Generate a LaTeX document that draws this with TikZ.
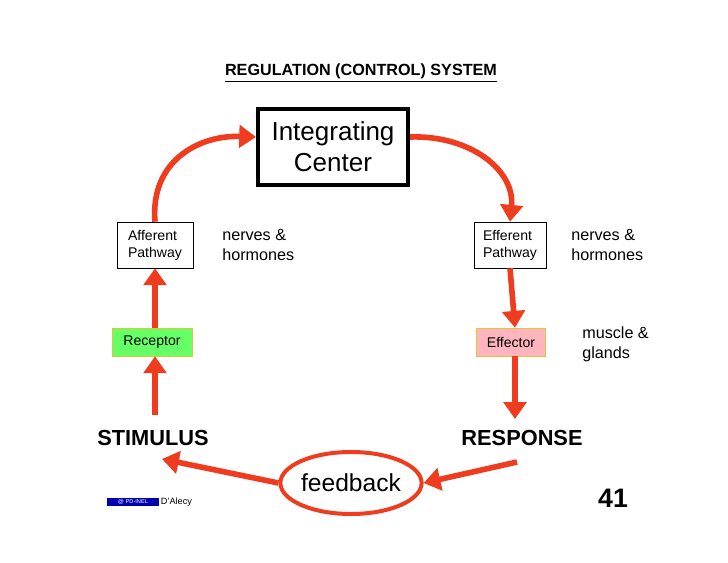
\documentclass[tikz,border=0pt]{standalone}
\usepackage{fontspec}
\setmainfont{Liberation Sans}
\usetikzlibrary{arrows.meta,shapes.geometric}
\definecolor{arr}{RGB}{240,60,30}
\definecolor{recgreen}{RGB}{102,255,102}
\definecolor{effpink}{RGB}{255,180,190}
\definecolor{effedge}{RGB}{220,200,60}
\begin{document}
\begin{tikzpicture}[x=0.025cm,y=-0.025cm,
  flow/.style={draw=arr, line width=1.4mm, -{Triangle[length=4.2mm,width=5.6mm]}},
  small/.style={draw, thin, align=left, font=\fontsize{10}{12}\selectfont, inner sep=2pt},
  note/.style={align=left, font=\fontsize{11.5}{14}\selectfont, anchor=north west, inner sep=0pt},
  big/.style={font=\bfseries\fontsize{15.5}{18}\selectfont}]
\useasboundingbox (0,0) rectangle (728,563);

%%%%% title and labels
\node[font=\bfseries\fontsize{11.5}{13}\selectfont] (title) at (361,73) {\underline{REGULATION (CONTROL) SYSTEM}};
\node[draw, line width=1mm, minimum width=3.75cm, minimum height=1.9cm, align=center,
  font=\fontsize{18.5}{22}\selectfont] (ic) at (333,147) {Integrating\\Center};
\node[small, minimum width=1.9cm, minimum height=1.15cm] (aff) at (155,245) {Afferent\\Pathway};
\node[small, minimum width=1.8cm, minimum height=1.15cm] (eff) at (510,245) {Efferent\\Pathway};
\node[small, fill=recgreen, draw=effedge, minimum width=2.0cm, minimum height=0.7cm] (rec) at (152,342) {Receptor};
\node[small, fill=effpink, draw=effedge, minimum width=1.72cm, minimum height=0.7cm] (efc) at (511,342) {Effector};
\node[note] (n1) at (222,229) {nerves \&\\hormones};
\node[note] (n2) at (571,229) {nerves \&\\hormones};
\node[note] (n3) at (582,327) {muscle \&\\glands};
\node[big] (stim) at (153,438) {STIMULUS};
\node[big] (resp) at (522,438) {RESPONSE};
\node[ellipse, draw=arr, line width=1mm, minimum width=3.5cm, minimum height=1.55cm,
  inner sep=0pt, font=\fontsize{17.5}{20}\selectfont] (fb) at (351,483) {feedback};
\node[font=\bfseries\fontsize{19}{22}\selectfont] (num) at (613,498) {41};
\node[fill=blue!70!black, minimum width=1.3cm, minimum height=0.22cm, inner sep=0pt,
  text=white, font=\fontsize{4}{4}\selectfont] (logo) at (133,502) {@\,\,PD-INEL};
\node[anchor=west, inner sep=1pt, font=\fontsize{6.5}{7}\selectfont] (alecy) at (logo.east) {D'Alecy};

%%%%% arrows
\draw[flow] (aff.north) .. controls (150,160) and (200,135) .. (ic.west |- 0,137);
\draw[flow] (ic.east |- 0,137) .. controls (470,135) and (515,170) .. (eff.north);
\draw[flow] (155,415) -- (rec.south -| 155,0);
\draw[flow] (rec.north -| 155,0) -- (aff.south);
\draw[flow] (eff.south) -- (efc.north -| 515,0);
\draw[flow] (efc.south -| 515,0) -- (515,419);
\draw[flow] (517,462) -- (fb.east);
\draw[flow] (fb.west) -- (162,459);
\end{tikzpicture}
\end{document}
